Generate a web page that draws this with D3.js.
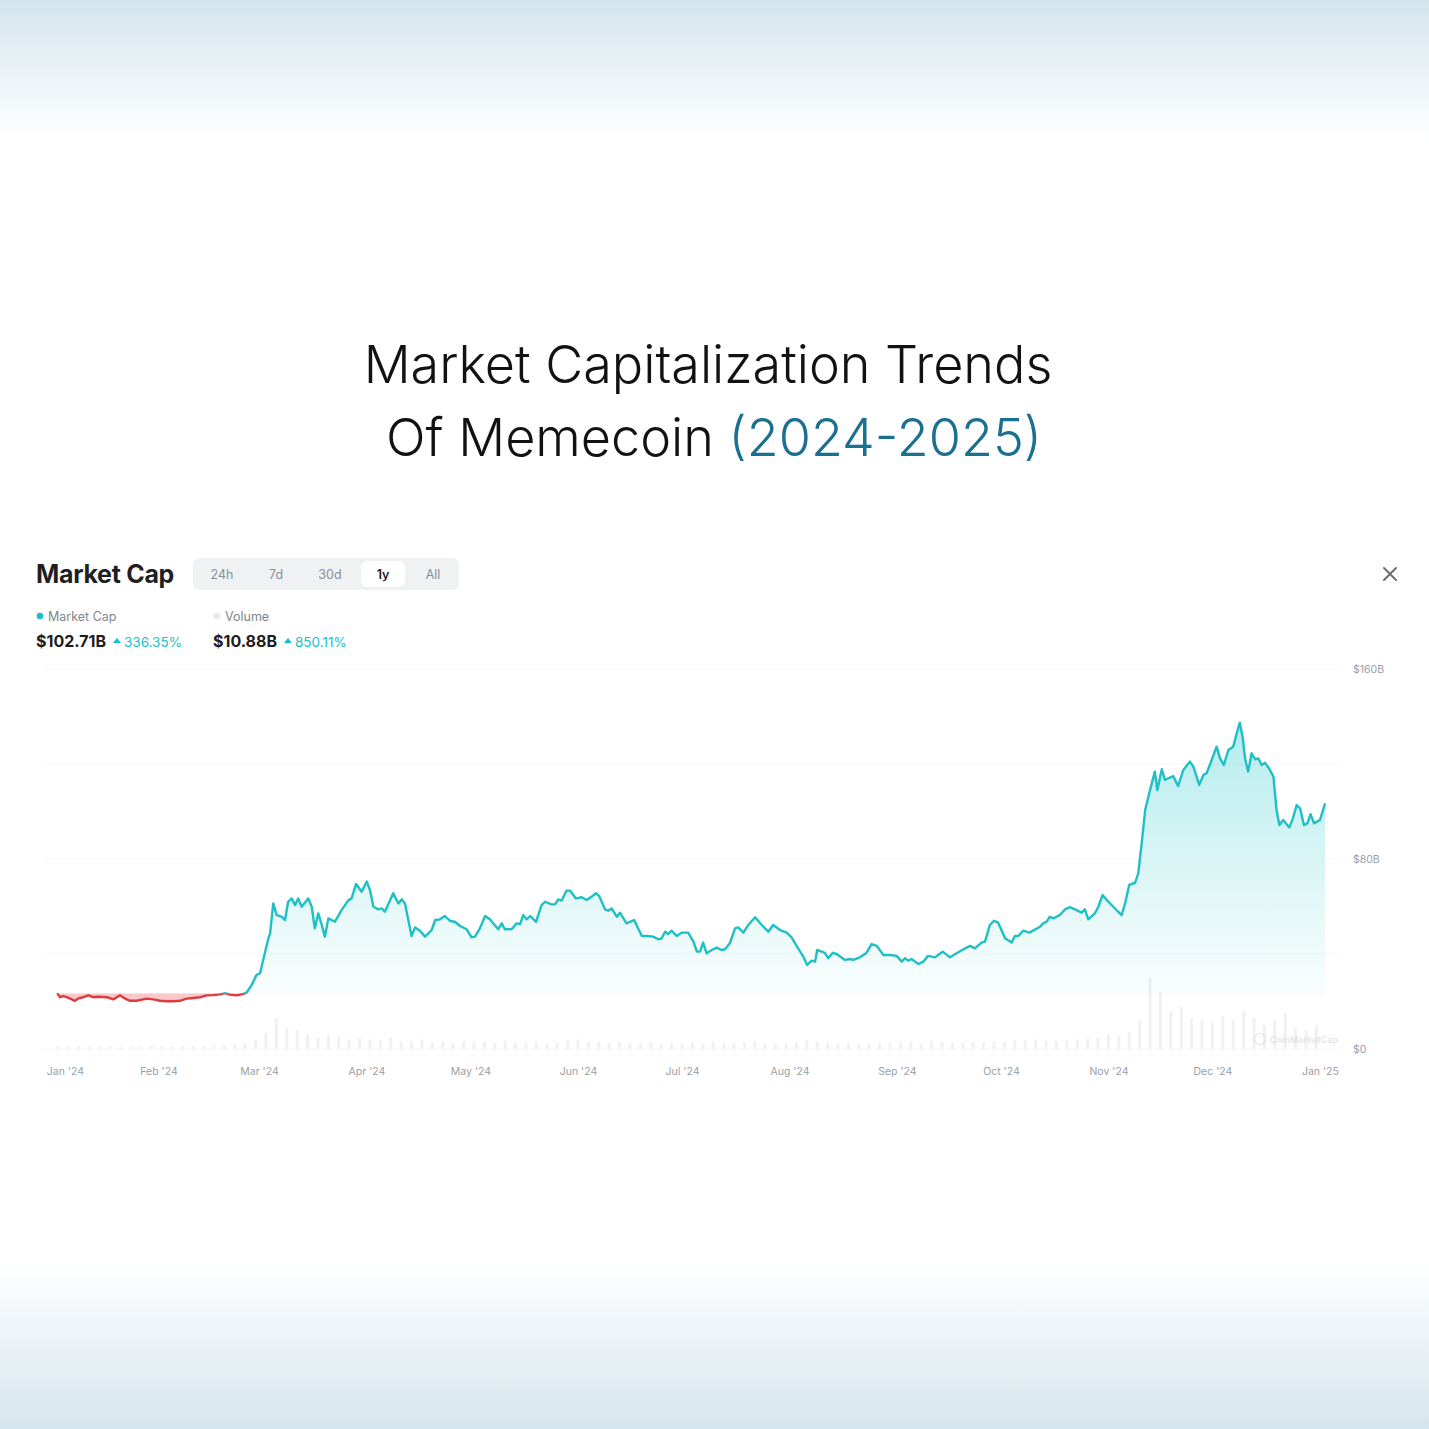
<!DOCTYPE html>
<html><head><meta charset="utf-8">
<script src="https://cdn.jsdelivr.net/npm/d3@7"></script>
<style>body{margin:0;background:#fff;overflow:hidden}</style>
</head><body>
<svg id="c" width="1429" height="1429"></svg>
<script>
// ---- data (market cap in $B, day offsets from 2024-01-01) ----
const mcDays = [1.8,2.6,3.5,4.5,6.0,6.9,7.9,9.3,10.8,12.2,13.6,16.1,18.0,19.9,21.3,22.8,24.7,27.6,29.5,31.4,33.4,35.3,37.2,39.1,41.0,43.0,44.9,46.8,48.7,50.2,51.6,53.6,55.5,56.4,57.9,59.3,60.3,61.2,62.7,63.2,64.1,65.1,66.5,67.5,68.4,69.4,70.4,71.3,72.3,74.2,75.2,76.1,77.1,78.1,79.0,80.0,81.9,83.8,85.8,86.7,88.0,89.6,91.1,92.0,93.0,94.4,95.4,96.3,98.7,100.2,101.2,102.1,104.0,105.0,106.4,107.9,109.8,110.8,112.2,113.6,115.1,116.5,118.0,119.9,121.3,122.3,123.7,125.2,126.6,129.0,130.0,130.9,132.9,134.3,135.3,136.2,137.2,138.2,139.9,141.5,142.5,144.4,145.4,146.3,147.3,148.7,149.7,151.4,153.1,154.5,156.0,157.2,158.1,159.8,160.7,161.7,163.2,164.1,166.0,168.2,170.4,171.8,173.7,175.2,176.1,177.1,178.0,179.0,180.5,181.9,183.8,185.3,186.3,187.2,188.1,189.1,190.6,192.0,193.4,194.4,195.8,197.3,198.2,199.7,201.1,203.1,205.0,206.9,208.3,210.3,212.2,213.6,215.5,217.0,218.1,219.4,220.4,221.0,222.3,223.2,224.2,225.5,226.6,229.0,230.5,231.4,233.3,235.1,236.7,238.2,240.1,242.0,243.9,245.4,246.3,247.3,248.2,250.2,251.6,253.0,255.0,257.2,259.3,261.2,263.2,265.1,266.5,268.4,269.4,270.8,272.0,273.2,275.2,277.1,278.0,279.0,280.4,282.2,285.3,286.2,287.2,288.1,289.1,291.0,292.5,293.9,295.8,297.3,298.2,299.2,301.1,302.1,303.3,305.0,306.4,307.8,308.8,309.8,311.0,312.7,313.6,314.6,315.6,317.0,318.0,318.4,319.1,320.4,321.3,322.3,323.7,325.1,326.6,328.5,329.5,331.2,332.4,333.3,334.8,336.2,337.2,338.3,339.6,341.0,342.0,342.9,343.7,344.4,345.3,346.3,347.3,348.2,349.2,350.2,351.6,352.6,353.5,354.3,355.4,357.2,358.2,359.3,360.3,361.4,362.4,363.3,364.3,366.0,367.5];
const mcValues = [23.5,21.8,22.3,21.8,20.9,20.3,21.3,21.8,22.6,21.8,22.0,21.8,20.9,22.6,21.3,20.3,20.3,21.2,20.9,20.3,20.1,20.1,20.3,21.2,21.5,21.8,22.6,22.7,23.0,23.5,22.9,22.6,23.2,23.7,27.0,31.2,31.9,37.5,46.6,48.7,61.3,56.4,55.7,54.3,62.0,63.4,60.6,63.4,59.9,63.4,59.9,50.8,57.1,52.2,47.3,55.0,53.6,58.5,62.7,63.4,69.5,66.2,70.5,66.9,59.9,58.8,59.2,57.8,65.6,61.3,63.0,61.3,47.6,51.2,49.8,47.3,50.1,54.3,54.6,56.0,53.9,53.6,51.8,50.4,47.0,47.3,50.8,56.0,54.6,50.4,52.9,50.4,50.5,52.9,52.6,56.4,54.6,56.0,53.5,60.6,62.0,60.9,60.9,63.0,62.5,66.7,66.7,63.4,63.9,62.7,64.2,65.6,64.4,58.8,58.2,59.2,55.7,57.4,52.9,54.3,47.6,47.6,47.3,46.2,46.5,49.4,48.4,49.8,47.6,49.0,49.0,45.2,41.0,41.0,44.8,40.3,41.7,42.7,41.7,42.0,44.5,50.8,51.2,49.0,52.2,55.5,52.2,49.4,52.2,50.1,49.0,47.0,42.4,38.9,35.4,37.2,36.8,41.7,41.0,40.5,38.2,40.5,40.0,37.5,37.9,37.5,38.6,40.3,44.2,43.4,39.6,39.6,39.2,36.8,38.2,37.2,37.9,35.8,36.8,39.2,38.6,41.0,38.6,40.3,42.0,43.4,42.4,44.8,45.2,52.2,54.0,53.2,46.6,44.8,47.6,47.6,49.8,49.0,51.5,52.9,53.6,55.7,55.0,56.4,58.8,59.7,58.5,57.4,58.8,54.6,57.1,59.9,64.8,62.0,59.9,57.8,56.4,61.3,69.1,70.0,74.0,86.6,100.6,109.0,114.6,116.8,109.0,117.8,113.3,114.0,114.9,110.7,117.5,121.0,118.9,111.2,115.4,116.1,121.7,127.3,122.4,119.6,125.9,127.3,132.9,137.4,131.5,122.4,116.8,124.5,122.0,122.4,119.6,120.5,117.5,114.6,100.6,94.3,96.4,93.3,97.1,102.7,101.3,94.3,95.0,98.9,95.0,96.4,103.4];
// volume in $B, one bar every 3 days starting at day 2
const volStartDay = 2, volStepDays = 3;
const volValues = [1.2,1.0,1.3,1.1,1.0,1.2,0.9,1.1,1.0,1.2,1.0,0.9,1.1,1.3,1.2,1.4,1.5,1.8,2.5,
 4,7,13,9,8,6,5,6,5,4,4.5,
 4,3.5,5,3,3.2,4,2.8,3,2.5,3.2,
 2.8,3,2.6,3.4,2.5,2.7,3,2.4,2.6,3.5,
 4,3,2.8,2.6,3,2.5,2.4,2.8,2.2,2.5,
 2.3,2.6,2.4,3,2.2,2.5,2.8,3.2,2.4,2.2,
 2.4,2.6,3.5,2.8,2.5,2.3,2.6,2.2,2.4,2.5,
 2.6,2.8,3,2.5,3.5,3,2.7,2.6,3,2.8,
 3.2,3,3.5,3.8,4,3.5,3.2,3.6,4,4.5,
 5,6,5.5,7,12,
 30,24,16,18,13,12,
 11,14,12,16,13,10,12,15,9,8,10];
const xTickDates = ["2024-01-05","2024-02-01","2024-03-01","2024-04-01","2024-05-01","2024-06-01","2024-07-01","2024-08-01","2024-09-01","2024-10-01","2024-11-01","2024-12-01","2025-01-01"];
const xTickLabels = ["Jan '24","Feb '24","Mar '24","Apr '24","May '24","Jun '24","Jul '24","Aug '24","Sep '24","Oct '24","Nov '24","Dec '24","Jan '25"];
const yTickValues = [0,80,160];
const yTickLabels = ["$0","$80B","$160B"];
const yGridValues = [0,40,80,120,160];
const rangeButtons = ["24h","7d","30d","1y","All"];
const selectedRange = "1y";
const legendItems = [{name:"Market Cap",value:"$102.71B",change:"336.35%"},{name:"Volume",value:"$10.88B",change:"850.11%"}];

// ---- drawing ----
const svg = d3.select("#c");
const W = 1429, H = 1429;
const defs = svg.append("defs");
const t0 = Date.UTC(2024,0,1);
const dayDate = d => new Date(t0 + d*864e5);
const series = mcDays.map((d,i)=>({date:dayDate(d), v:mcValues[i]}));

// background bands
const gTop = defs.append("linearGradient").attr("id","bgTop").attr("x1",0).attr("y1",0).attr("x2",0).attr("y2",1);
gTop.append("stop").attr("offset","0").attr("stop-color","#d3e4ec");
gTop.append("stop").attr("offset","1").attr("stop-color","#ffffff");
const gBot = defs.append("linearGradient").attr("id","bgBot").attr("x1",0).attr("y1",0).attr("x2",0).attr("y2",1);
gBot.append("stop").attr("offset","0").attr("stop-color","#ffffff");
gBot.append("stop").attr("offset","1").attr("stop-color","#d5e5ed");
svg.append("rect").attr("width",W).attr("height",H).attr("fill","#fff");
svg.append("rect").attr("x",0).attr("y",0).attr("width",W).attr("height",138).attr("fill","url(#bgTop)");
svg.append("rect").attr("x",0).attr("y",1265).attr("width",W).attr("height",164).attr("fill","url(#bgBot)");

// title
const title = svg.append("g").attr("font-family","Inter, 'Noto Sans', sans-serif").attr("font-weight",300).attr("fill","#121212").attr("text-anchor","middle");
const t1 = title.append("text").attr("x",708).attr("y",383).attr("font-size",46).text("Market Capitalization Trends");
const t2 = title.append("text").attr("x",714).attr("y",456).attr("font-size",46);
t2.append("tspan").text("Of Memecoin ");
t2.append("tspan").attr("fill","#1b6f90").text("(2024-2025)");
// fit first title line to reference width
const L = t1.node().getComputedTextLength();
const fs = 46*689/L;
t1.attr("font-size",fs); t2.attr("font-size",fs);

// header of chart card
const ui = svg.append("g").attr("font-family","Inter, 'Noto Sans', sans-serif");
ui.append("text").attr("x",36).attr("y",583).attr("font-size",25).attr("font-weight",700).attr("fill","#1f1f1f").attr("letter-spacing",-0.3).text("Market Cap");
ui.append("rect").attr("x",193).attr("y",558).attr("width",266).attr("height",32).attr("rx",7).attr("fill","#eff1f3");
const bx = {"24h":222,"7d":276,"30d":330,"1y":383,"All":433};
rangeButtons.forEach(b=>{
  if(b===selectedRange){
    ui.append("rect").attr("x",bx[b]-22).attr("y",561).attr("width",44).attr("height",26).attr("rx",6).attr("fill","#fff");
  }
  ui.append("text").attr("x",bx[b]).attr("y",578.5).attr("text-anchor","middle").attr("font-size",12.5)
    .attr("font-weight",b===selectedRange?600:400).attr("fill",b===selectedRange?"#222":"#8a8f96").text(b);
});
// close icon
ui.append("path").attr("d","M1384,568 L1396,580 M1396,568 L1384,580").attr("stroke","#6b6f75").attr("stroke-width",2).attr("stroke-linecap","round");

// legend
const legX = [36,213];
legendItems.forEach((it,i)=>{
  const x0 = legX[i];
  ui.append("circle").attr("cx",x0+4).attr("cy",616).attr("r",3.3).attr("fill",i===0?"#17c1c6":"#e8e9eb");
  ui.append("text").attr("x",x0+12).attr("y",620.5).attr("font-size",12.5).attr("fill","#80868d").text(it.name);
  const vt = ui.append("text").attr("x",x0).attr("y",647).attr("font-size",16).attr("font-weight",700).attr("fill","#1d1d1d").text(it.value);
  const w = vt.node().getComputedTextLength();
  ui.append("path").attr("d",`M${x0+w+7},${643} l4,-5 l4,5 z`).attr("fill","#16c1c6");
  ui.append("text").attr("x",x0+w+18).attr("y",646.5).attr("font-size",13.5).attr("fill","#16c1c6").text(it.change);
});

// scales
const x = d3.scaleUtc().domain([new Date(t0), new Date(Date.UTC(2025,0,1))]).range([51, 1319.9]);
const y = d3.scaleLinear().domain([0,160]).range([1049,669]);
const yVol = d3.scaleLinear().domain([0,30]).range([1049,978]);

// grid
const grid = svg.append("g");
grid.selectAll("line").data(yGridValues).join("line")
  .attr("x1",45).attr("x2",1338).attr("y1",d=>y(d)).attr("y2",d=>y(d))
  .attr("stroke","#eceef0").attr("stroke-width",1).attr("stroke-dasharray","2,2");

// volume bars
const vol = volValues.map((v,i)=>({date:dayDate(volStartDay+i*volStepDays), v}));
svg.append("g").selectAll("rect").data(vol).join("rect")
  .attr("x",d=>x(d.date)-1.5).attr("width",3)
  .attr("y",d=>yVol(d.v)).attr("height",d=>yVol(0)-yVol(d.v))
  .attr("fill","#f1f1f3");

// watermark
const wm = svg.append("g").attr("opacity",0.6);
wm.append("circle").attr("cx",1260).attr("cy",1039).attr("r",5.5).attr("fill","none").attr("stroke","#d3d6da").attr("stroke-width",1.2);
wm.append("text").attr("x",1270).attr("y",1042.5).attr("font-family","Inter, sans-serif").attr("font-size",9).attr("font-weight",600).attr("fill","#d3d6da").text("CoinMarketCap");

// area + line split at baseline (first value)
const base = mcValues[0];
const yb = y(base);
defs.append("clipPath").attr("id","above").append("rect").attr("x",0).attr("y",0).attr("width",W).attr("height",yb);
defs.append("clipPath").attr("id","below").append("rect").attr("x",0).attr("y",yb).attr("width",W).attr("height",H-yb);
const gArea = defs.append("linearGradient").attr("id","areaG").attr("gradientUnits","userSpaceOnUse").attr("x1",0).attr("x2",0).attr("y1",y(140)).attr("y2",yb);
gArea.append("stop").attr("offset","0").attr("stop-color","#16c1c6").attr("stop-opacity",0.32);
gArea.append("stop").attr("offset","1").attr("stop-color","#16c1c6").attr("stop-opacity",0.02);
const area = d3.area().x(d=>x(d.date)).y0(yb).y1(d=>y(d.v)).curve(d3.curveLinear);
const line = d3.line().x(d=>x(d.date)).y(d=>y(d.v)).curve(d3.curveLinear);
svg.append("path").datum(series).attr("d",area).attr("fill","url(#areaG)").attr("clip-path","url(#above)");
svg.append("path").datum(series).attr("d",area).attr("fill","#ea3943").attr("fill-opacity",0.28).attr("clip-path","url(#below)");
svg.append("path").datum(series).attr("d",line).attr("fill","none").attr("stroke","#1fc0c5").attr("stroke-width",2.4).attr("stroke-linejoin","round").attr("clip-path","url(#above)");
svg.append("path").datum(series).attr("d",line).attr("fill","none").attr("stroke","#e0393f").attr("stroke-width",2.4).attr("stroke-linejoin","round").attr("clip-path","url(#below)");

// axes
const xAxis = d3.axisBottom(x).tickValues(xTickDates.map(s=>new Date(s+"T00:00:00Z")))
  .tickFormat((d,i)=>xTickLabels[i]).tickSize(0).tickPadding(0);
const gx = svg.append("g").attr("transform","translate(0,1068)").call(xAxis);
gx.select(".domain").remove();
gx.selectAll("text").attr("font-family","Inter, 'Noto Sans', sans-serif").attr("font-size",10.5).attr("fill","#9a9ea4");

const yAxis = d3.axisRight(y).tickValues(yTickValues).tickFormat((d,i)=>yTickLabels[i]).tickSize(0).tickPadding(0);
const gy = svg.append("g").attr("transform","translate(1353,0)").call(yAxis);
gy.select(".domain").remove();
gy.selectAll("text").attr("font-family","Inter, 'Noto Sans', sans-serif").attr("font-size",10.5).attr("fill","#9a9ea4");
</script>
</body></html>
